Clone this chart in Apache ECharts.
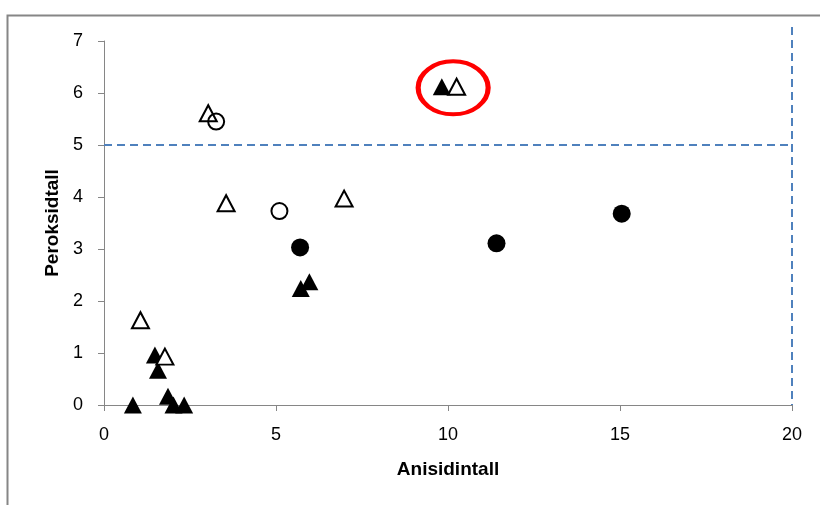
<!DOCTYPE html>
<html>
<head>
<meta charset="utf-8">
<script src="https://cdn.jsdelivr.net/npm/echarts@6/dist/echarts.min.js"></script>
<style>html,body{margin:0;padding:0;background:#fff}#c{width:820px;height:505px}</style>
</head>
<body>
<div id="c"></div>
<script>
// Data (Anisidintall, Peroksidtall)
const filledTriangles = [[9.82,6.12],[5.72,2.24],[5.97,2.37],[1.48,0.96],[1.57,0.67],[1.86,0.17],[2.02,0],[2.33,0],[0.84,0]];
const openTriangles = [[1.06,1.63],[1.77,0.93],[3.03,5.61],[3.55,3.88],[6.98,3.97],[10.25,6.12]];
const openCircles = [[3.26,5.45],[5.10,3.73]];
const filledCircles = [[5.70,3.03],[11.41,3.11],[15.05,3.68]];
const highlight = [[10.15,6.1]];
const limitPeroksid = [[0,5],[21,5]];
const limitAnisidin = [[20,7.27],[20,0]];
const xTicks = [0,5,10,15,20];
const yTicks = [0,1,2,3,4,5,6,7];

const chart = echarts.init(document.getElementById('c'));
const font = '"Liberation Sans", Arial, sans-serif';
const axisColor = '#868686';
const dashStyle = {color:'#4f81bd', width:2, type:[8,5]};
chart.setOption({
  animation:false,
  backgroundColor:'#fff',
  graphic:[{type:'rect', shape:{x:7.5,y:15.5,width:830,height:500}, style:{fill:null, stroke:'#868686', lineWidth:2}, silent:true, z:-1}],
  grid:{left:104, right:28, top:41, bottom:100},
  xAxis:{type:'value', min:xTicks[0], max:xTicks[xTicks.length-1], interval:5,
    name:'Anisidintall', nameLocation:'middle', nameGap:55,
    nameTextStyle:{fontFamily:font, fontWeight:'bold', fontSize:19, color:'#000'},
    axisLine:{show:true, lineStyle:{color:axisColor, width:1}},
    axisTick:{show:true, length:6, lineStyle:{color:axisColor}},
    axisLabel:{fontFamily:font, fontSize:18, color:'#000', margin:21},
    splitLine:{show:false}},
  yAxis:{type:'value', min:yTicks[0], max:yTicks[yTicks.length-1], interval:1,
    name:'Peroksidtall', nameLocation:'middle', nameGap:36, nameRotate:90,
    nameTextStyle:{fontFamily:font, fontWeight:'bold', fontSize:19, color:'#000'},
    axisLine:{show:true, lineStyle:{color:axisColor, width:1}},
    axisTick:{show:true, length:6, lineStyle:{color:axisColor}},
    axisLabel:{fontFamily:font, fontSize:18, color:'#000', margin:21},
    splitLine:{show:false}},
  series:[
    {type:'line', data:limitPeroksid, clip:false, symbol:'none', lineStyle:dashStyle, z:1},
    {type:'line', data:limitAnisidin, clip:false, symbol:'none', lineStyle:dashStyle, z:1},
    {type:'scatter', data:filledTriangles, symbol:'triangle', symbolSize:[18,17], itemStyle:{color:'#000', opacity:1}, z:2},
    {type:'scatter', data:openTriangles, symbol:'triangle', symbolSize:[17,16], itemStyle:{color:'#fff', borderColor:'#000', borderWidth:2, opacity:1}, z:3},
    {type:'scatter', data:filledCircles, symbol:'circle', symbolSize:18, itemStyle:{color:'#000', opacity:1}, z:4},
    {type:'scatter', data:openCircles, symbol:'circle', symbolSize:16, itemStyle:{color:'rgba(255,255,255,0)', borderColor:'#000', borderWidth:2, opacity:1}, z:5},
    {type:'scatter', data:highlight, symbol:'circle', symbolSize:[70,53], itemStyle:{color:'rgba(0,0,0,0)', borderColor:'#ff0000', borderWidth:4.5, opacity:1}, z:6}
  ]
});
</script>
</body>
</html>
